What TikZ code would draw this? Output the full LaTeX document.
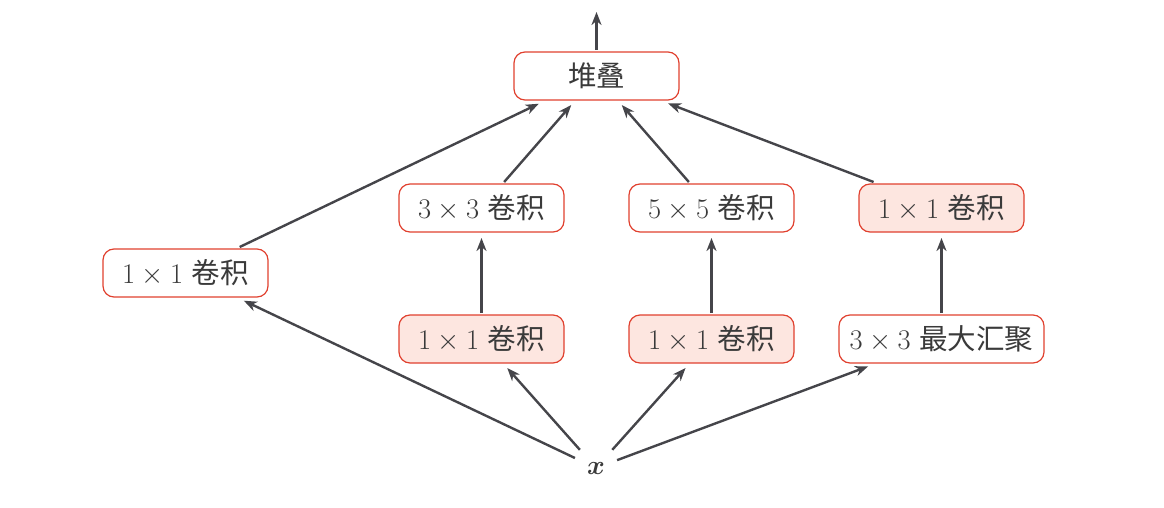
\RequirePackage{fix-cm}
\documentclass[tikz,border=0pt]{standalone}
\usepackage{fontspec}
\usepackage{amsmath,bm}
\newfontfamily\cjk{Noto Sans CJK SC}
\usetikzlibrary{arrows.meta}
\definecolor{edgegray}{HTML}{45454A}
\definecolor{boxred}{HTML}{E0402E}
\definecolor{boxfill}{HTML}{FDE6E0}
\definecolor{txt}{HTML}{3A3A3A}
\begin{document}
\begin{tikzpicture}[x=1pt,y=-1pt,
  box/.style={draw=boxred, line width=1.2pt, rounded corners=11pt, minimum width=165pt, minimum height=48pt, inner sep=0pt, outer sep=2pt, text=txt, font=\fontsize{28.5}{32}\selectfont},
  hot/.style={box, fill=boxfill},
  conn/.style={draw=edgegray, line width=2.4pt, -{Stealth[length=13pt,width=10pt,inset=4pt]}, shorten >=4pt}]
\useasboundingbox (0,0) rectangle (1164,508);
\node[box] (stack) at (596.5,76) {{\cjk 堆叠}};
\node[box] (l11) at (185.5,273) {$1\times1$ {\cjk 卷积}};
\node[box] (c33) at (481.5,208) {$3\times3$ {\cjk 卷积}};
\node[box] (c55) at (711.5,208) {$5\times5$ {\cjk 卷积}};
\node[hot] (r11) at (941.5,208) {$1\times1$ {\cjk 卷积}};
\node[hot] (b11a) at (481.5,339) {$1\times1$ {\cjk 卷积}};
\node[hot] (b11b) at (711.5,339) {$1\times1$ {\cjk 卷积}};
\node[box, minimum width=205pt] (pool) at (941.5,339) {$3\times3$ {\cjk 最大汇聚}};
\node[inner sep=12pt, text=txt, font=\fontsize{27}{31}\selectfont] (x) at (596,468) {$\bm{x}$};
\coordinate (out) at (596.5,12);
\draw[conn, shorten >=0pt] (stack) -- (out);
\draw[conn] (l11) -- (stack);
\draw[conn] (c33) -- (stack);
\draw[conn] (c55) -- (stack);
\draw[conn] (r11) -- (stack);
\draw[conn] (b11a) -- (c33);
\draw[conn] (b11b) -- (c55);
\draw[conn] (pool) -- (r11);
\draw[conn] (x) -- (l11);
\draw[conn] (x) -- (b11a);
\draw[conn] (x) -- (b11b);
\draw[conn] (x) -- (pool);
\end{tikzpicture}
\end{document}
